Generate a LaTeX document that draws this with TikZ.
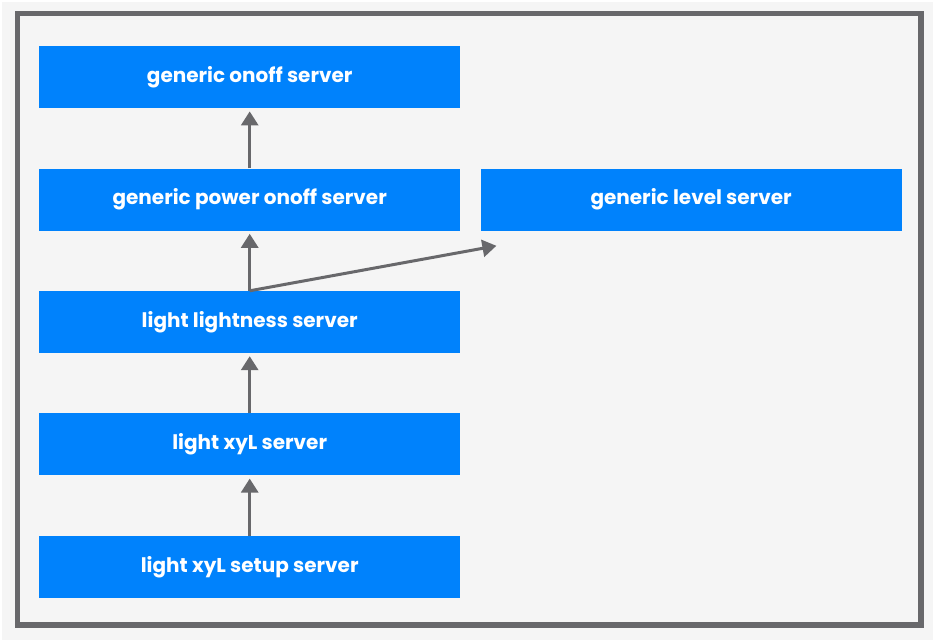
\documentclass[tikz,border=0pt]{standalone}
\usepackage{fontspec}
\setmainfont{Poppins}
\usetikzlibrary{positioning}
\usetikzlibrary{arrows.meta}
\definecolor{boxblue}{HTML}{0082FC}
\definecolor{framegray}{HTML}{68686B}
\definecolor{bggray}{HTML}{F5F5F5}

\begin{document}
\begin{tikzpicture}[x=1pt, y=-1pt,
                        model/.style={fill=boxblue, text=white, font=\fontsize{20}{22}\selectfont\bfseries,
                                      minimum width=421pt, minimum height=62pt, inner sep=0pt},
                        extends/.style={draw=framegray, line width=3pt,
                                        -{Triangle[length=14pt, width=17pt]}, shorten >=3pt},
                        node distance=60pt and 20pt]
            \useasboundingbox (0,0) rectangle (934,642);
            \fill[white] (0,0) rectangle (934,642);
            \fill[bggray] (2,2) rectangle (933,640);
            \draw[framegray, line width=5.5pt] (17.5,13.5) rectangle (921,625);

            \node[model, anchor=north west] (onoff) at (39,46) {generic onoff server};
            \node[model, below=of onoff] (power) {generic power onoff server};
            \node[model, right=of power] (level) {generic level server};
            \node[model, below=of power] (lightness) {light lightness server};
            \node[model, below=of lightness] (xyl) {light xyL server};
            \node[model, below=of xyl] (setup) {light xyL setup server};
            \coordinate[below right=15pt and 16pt of level.south west] (levelin);

            \draw[extends] (power.north) -- (onoff.south);
            \draw[extends] (lightness.north) -- (power.south);
            \draw[extends, shorten >=0pt] (lightness.north) -- (levelin);
            \draw[extends] (xyl.north) -- (lightness.south);
            \draw[extends] (setup.north) -- (xyl.south);
        \end{tikzpicture}
\end{document}
